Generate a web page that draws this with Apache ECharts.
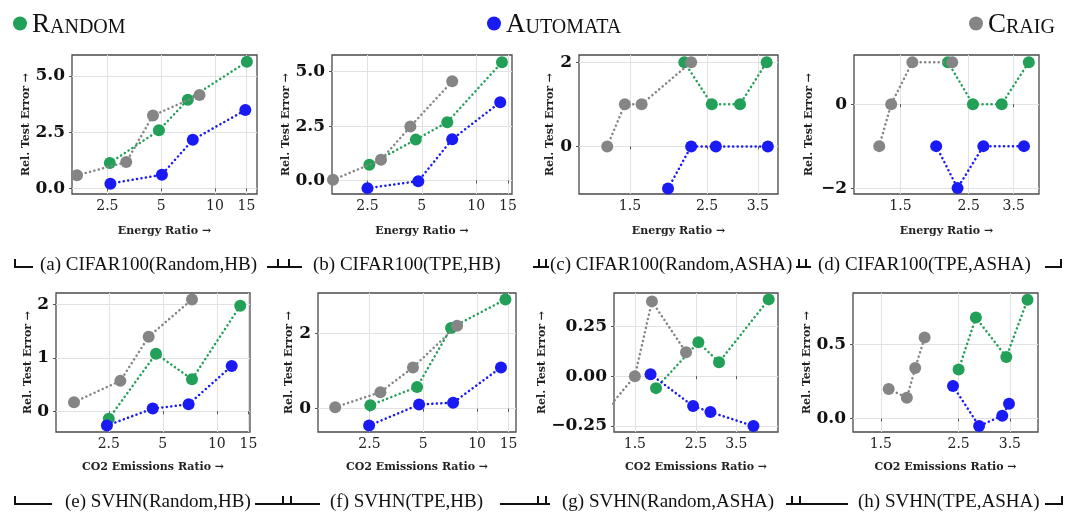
<!DOCTYPE html>
<html>
<head>
<meta charset="utf-8">
<script src="https://cdn.jsdelivr.net/npm/echarts@6/dist/echarts.min.js"></script>
<style>
html, body { margin: 0; padding: 0; background: #fff; }
#chart { width: 1068px; height: 512px; }
</style>
</head>
<body>
<div id="chart"></div>
<script>
const methods = ['Random', 'Automata', 'Craig'];
const colors = ['#23a058', '#1a1af5', '#858585'];

const captions = [
    '(a) CIFAR100(Random,HB)', '(b) CIFAR100(TPE,HB)', '(c) CIFAR100(Random,ASHA)', '(d) CIFAR100(TPE,ASHA)',
    '(e) SVHN(Random,HB)', '(f) SVHN(TPE,HB)', '(g) SVHN(Random,ASHA)', '(h) SVHN(TPE,ASHA)'
];
const xNames = ['Energy Ratio →', 'CO2 Emissions Ratio →'];
const yName = 'Rel. Test Error →';

const xTicksHB = [2.5, 5, 10, 15];
const xTicksASHA = [1.5, 2.5, 3.5];
const yTicks = [[0, 2.5, 5], [0, 2.5, 5], [0, 2], [-2, 0], [0, 1, 2], [0, 2], [-0.25, 0, 0.25], [0, 0.5]];

// [ratio, rel. test error] per method, per sub-figure
const randomA = [[2.58, 1.13], [4.86, 2.58], [7.05, 3.94], [15.1, 5.63]];
const automataA = [[2.6, 0.21], [5.05, 0.61], [7.52, 2.16], [14.8, 3.48]];
const craigA = [[1.69, 0.58], [3.19, 1.17], [4.5, 3.24], [8.2, 4.15]];

const randomB = [[2.56, 0.73], [4.63, 1.88], [6.92, 2.68], [13.9, 5.44]];
const automataB = [[2.5, -0.35], [4.78, -0.03], [7.37, 1.9], [13.6, 3.6]];
const craigB = [[1.61, 0.03], [2.97, 0.95], [4.32, 2.48], [7.37, 4.56]];

const randomC = [[2.15, 2], [2.58, 1], [3.11, 1], [3.71, 2]];
const automataC = [[1.93, -1], [2.25, 0], [2.65, 0], [3.74, 0]];
const craigC = [[1.29, 0], [1.45, 1], [1.62, 1], [2.25, 2]];

const randomD = [[2.14, 1], [2.58, 0], [3.2, 0], [3.92, 1]];
const automataD = [[1.96, -1], [2.3, -2], [2.79, -1], [3.78, -1]];
const craigD = [[1.28, -1], [1.4, 0], [1.64, 1], [2.21, 1]];

const randomE = [[2.5, -0.14], [4.58, 1.08], [7.27, 0.6], [13.5, 1.98]];
const automataE = [[2.44, -0.27], [4.39, 0.05], [6.96, 0.13], [12.1, 0.85]];
const craigE = [[1.6, 0.17], [2.9, 0.57], [4.17, 1.4], [7.27, 2.1]];

const randomF = [[2.53, 0.09], [4.62, 0.58], [7.15, 2.15], [14.4, 2.91]];
const automataF = [[2.49, -0.45], [4.74, 0.11], [7.34, 0.16], [13.6, 1.1]];
const craigF = [[1.61, 0.04], [2.88, 0.44], [4.38, 1.1], [7.73, 2.21]];

const randomG = [[1.79, -0.06], [2.55, 0.17], [3.03, 0.07], [4.59, 0.385]];
const automataG = [[1.71, 0.01], [2.44, -0.15], [2.82, -0.18], [4.04, -0.25]];
const craigG = [[1.15, -0.19], [1.5, 0], [1.73, 0.375], [2.3, 0.12]];

const randomH = [[2.5, 0.33], [2.8, 0.68], [3.42, 0.415], [3.93, 0.8]];
const automataH = [[2.41, 0.22], [2.86, -0.05], [3.33, 0.02], [3.48, 0.1]];
const craigH = [[1.58, 0.2], [1.78, 0.14], [1.88, 0.34], [2.0, 0.545]];

const panelData = [
    [randomA, automataA, craigA], [randomB, automataB, craigB],
    [randomC, automataC, craigC], [randomD, automataD, craigD],
    [randomE, automataE, craigE], [randomF, automataF, craigF],
    [randomG, automataG, craigG], [randomH, automataH, craigH]
];

// layout: grid [left, top, width, height], axis ranges, label decimals, y name gap
const layout = [
    { grid: [72, 55, 185, 139], x: [1.585, 17.2], y: [-0.25, 5.93], dec: 1, gap: 38 },
    { grid: [332, 55, 180, 139], x: [1.59, 15.8], y: [-0.62, 5.77], dec: 1, gap: 37 },
    { grid: [579, 55, 199, 139], x: [1.07, 4.0], y: [-1.13, 2.17], dec: 0, gap: 23 },
    { grid: [854, 55, 185, 139], x: [1.06, 4.23], y: [-2.14, 1.17], dec: 0, gap: 39 },
    { grid: [56, 293, 194, 139], x: [1.27, 15.3], y: [-0.39, 2.22], dec: 0, gap: 21 },
    { grid: [318, 293, 198, 139], x: [1.29, 16.5], y: [-0.62, 3.08], dec: 0, gap: 23 },
    { grid: [614, 293, 164, 139], x: [1.26, 4.96], y: [-0.28, 0.417], dec: 2, gap: 60 },
    { grid: [853, 293, 185, 139], x: [1.25, 4.21], y: [-0.09, 0.845], dec: 1, gap: 39 }
];

const serif = 'DejaVu Serif';
const tickColor = '#555';
const gridColor = '#e2e2e2';

const grids = [], xAxes = [], yAxes = [], series = [];
layout.forEach((p, i) => {
    const row = i < 4 ? 0 : 1;
    const xt = (i % 4) < 2 ? xTicksHB : xTicksASHA;
    grids.push({
        left: p.grid[0], top: p.grid[1], width: p.grid[2], height: p.grid[3],
        show: true, borderColor: '#4a4a4a', borderWidth: 1.3, backgroundColor: 'transparent'
    });
    xAxes.push({
        type: 'log', gridIndex: i, min: p.x[0], max: p.x[1],
        axisLine: { show: false },
        axisTick: { show: true, length: 3, customValues: xt, lineStyle: { color: tickColor } },
        axisLabel: {
            customValues: xt, formatter: v => String(v),
            fontFamily: serif, fontSize: 14, color: '#222', margin: 5
        },
        splitLine: { show: true, lineStyle: { color: gridColor, width: 1 } },
        minorTick: { show: false },
        name: xNames[row], nameLocation: 'middle', nameGap: row === 0 ? 32 : 30,
        nameTextStyle: { fontFamily: serif, fontWeight: 'bold', fontSize: 11, color: '#222' }
    });
    yAxes.push({
        type: 'value', gridIndex: i, min: p.y[0], max: p.y[1],
        axisLine: { show: false },
        axisTick: { show: true, length: 3, customValues: yTicks[i], lineStyle: { color: tickColor } },
        axisLabel: {
            customValues: yTicks[i],
            formatter: v => (v < 0 ? '\u2212' : '') + Math.abs(v).toFixed(p.dec),
            fontFamily: serif, fontWeight: 'bold', fontSize: 17, color: '#111', margin: 7
        },
        splitLine: { show: true, lineStyle: { color: gridColor, width: 1 } },
        name: yName, nameLocation: 'middle', nameRotate: 90, nameGap: p.gap,
        nameTextStyle: { fontFamily: serif, fontWeight: 'bold', fontSize: 11, color: '#222' }
    });
    panelData[i].forEach((d, k) => {
        series.push({
            name: methods[k], type: 'line', xAxisIndex: i, yAxisIndex: i,
            data: d, symbol: 'circle', symbolSize: 12, clip: true,
            itemStyle: { color: colors[k] },
            lineStyle: { color: colors[k], width: 2.5, type: [0.1, 4.4], cap: 'round' },
            emphasis: { disabled: true }, z: 2 + k
        });
    });
});

const legendBase = {
    top: 6, icon: 'circle', itemWidth: 14, itemHeight: 14, itemGap: 6,
    formatter: n => '{b|' + n[0] + '}{s|' + n.slice(1).toUpperCase() + '}',
    textStyle: {
        color: '#111', padding: [2, 0, 0, 0],
        rich: {
            b: { fontFamily: 'Liberation Serif', fontSize: 27, color: '#111' },
            s: { fontFamily: 'Liberation Serif', fontSize: 20, color: '#111', verticalAlign: 'bottom' }
        }
    }
};
const legends = [
    Object.assign({ data: ['Random'], left: 8 }, legendBase),
    Object.assign({ data: ['Automata'], left: 482 }, legendBase),
    Object.assign({ data: ['Craig'], left: 964 }, legendBase)
];

// caption rows: text left x, bracket line segments, tick marks
const capRows = [
    { y: 265, lineY: 267, xs: [40, 313, 550, 818],
      segs: [[15, 33], [267, 302], [533, 549], [796, 811], [1045, 1061]],
      ticks: [15, 278, 289, 539, 546, 799, 806, 1061] },
    { y: 502, lineY: 504, xs: [65, 330, 562, 858],
      segs: [[15, 52], [255, 320], [500, 550], [786, 848], [1045, 1062]],
      ticks: [15, 283, 291, 538, 546, 792, 800, 1062] }
];
const graphics = [];
capRows.forEach((r, ri) => {
    r.xs.forEach((x, j) => {
        graphics.push({
            type: 'text', x: x, y: r.y,
            style: { text: captions[ri * 4 + j], font: '19px "Liberation Serif"', fill: '#111',
                     align: 'left', verticalAlign: 'middle' }
        });
    });
    r.segs.forEach(s => graphics.push({
        type: 'line', shape: { x1: s[0], y1: r.lineY, x2: s[1], y2: r.lineY },
        style: { stroke: '#111', lineWidth: 2 }
    }));
    r.ticks.forEach(t => graphics.push({
        type: 'line', shape: { x1: t, y1: r.lineY - 8, x2: t, y2: r.lineY + 1 },
        style: { stroke: '#111', lineWidth: 2 }
    }));
});

const myChart = echarts.init(document.getElementById('chart'));
myChart.setOption({
    animation: false,
    legend: legends,
    grid: grids,
    xAxis: xAxes,
    yAxis: yAxes,
    series: series,
    graphic: graphics
});
</script>
</body>
</html>
